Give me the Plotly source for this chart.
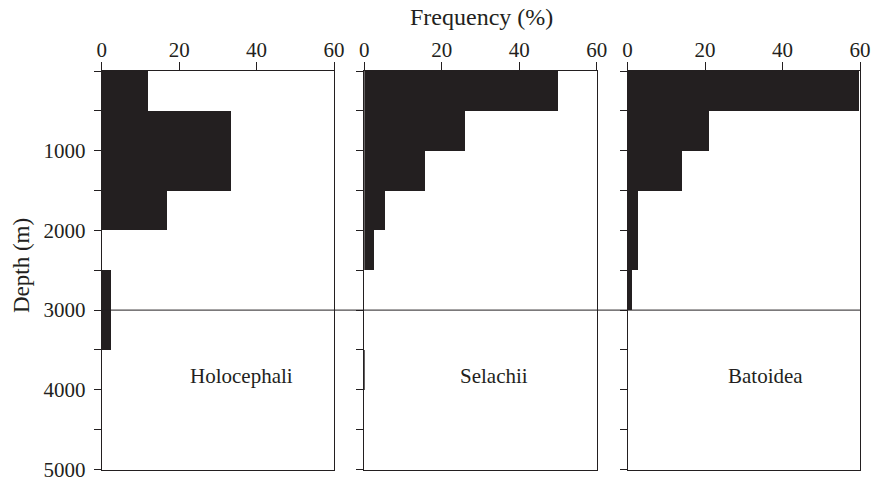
import plotly.graph_objects as go

# Depth bins (m), lower edges; each bin 500 m wide
bin_starts = [0, 500, 1000, 1500, 2000, 2500, 3000, 3500, 4000, 4500]
bin_width = 500

panels = ["Holocephali", "Selachii", "Batoidea"]
holocephali = [11.9, 33.3, 33.3, 16.7, 0, 2.4, 2.4, 0, 0, 0]
selachii = [50.0, 26.2, 15.7, 5.4, 2.6, 0, 0, 0.25, 0, 0]
batoidea = [59.5, 21.0, 14.0, 2.5, 2.7, 1.0, 0, 0, 0, 0]
series = [holocephali, selachii, batoidea]

x_ticks = [0, 20, 40, 60]
depth_ticks = list(range(0, 5001, 500))
depth_labels = ["" if (d == 0 or d % 1000) else str(d) for d in depth_ticks]
label_x = [36, 33.5, 35.5]
label_depth = 3830
threshold_depth = 3000

W, H = 872, 481
ink = "#231f20"
font_family = "Liberation Serif, Times New Roman, serif"

x_domains = [[101.7 / W, 334.0 / W], [364.3 / W, 596.7 / W], [627.5 / W, 860.0 / W]]
y_domain = [1 - 469.5 / H, 1 - 71.0 / H]

centers = [s + bin_width / 2 for s in bin_starts]

fig = go.Figure()
for i, (name, vals) in enumerate(zip(panels, series)):
    sfx = "" if i == 0 else str(i + 1)
    fig.add_trace(go.Bar(
        x=vals, y=centers, width=[bin_width] * len(centers), orientation="h",
        marker=dict(color=ink, line=dict(width=0)),
        xaxis="x" + sfx, yaxis="y" + sfx, showlegend=False, name=name,
    ))
    fig.layout["xaxis" + sfx] = dict(
        domain=x_domains[i], range=[0, 60], side="top", anchor="y" + sfx,
        tickvals=x_ticks, ticks="outside", ticklen=8, tickwidth=1, tickcolor=ink,
        ticklabelstandoff=-3,
        showline=True, linecolor=ink, linewidth=1, mirror=True,
        showgrid=False, zeroline=False, fixedrange=True, automargin=False,
        tickfont=dict(family=font_family, size=21, color=ink),
    )
    fig.layout["yaxis" + sfx] = dict(
        domain=y_domain, range=[5000, 0], anchor="x" + sfx,
        tickvals=depth_ticks, ticktext=depth_labels, showticklabels=(i == 0),
        ticks="outside", ticklen=7, tickwidth=1, tickcolor=ink,
        ticklabelstandoff=4, ticklabeloverflow="allow",
        showline=True, linecolor=ink, linewidth=1, mirror=True,
        showgrid=False, zeroline=False, fixedrange=True, automargin=False,
        tickfont=dict(family=font_family, size=21, color=ink),
    )
    fig.add_annotation(
        x=label_x[i], y=label_depth, xref="x" + sfx, yref="y" + sfx,
        xanchor="center", yanchor="middle",
        text=name, showarrow=False,
        font=dict(family=font_family, size=21, color=ink),
    )

fig.add_shape(type="line", xref="paper", yref="y",
              x0=x_domains[0][0], x1=x_domains[2][1],
              y0=threshold_depth, y1=threshold_depth,
              line=dict(color=ink, width=1), layer="above")

fig.add_annotation(x=482 / W, y=1 - 17 / H, xref="paper", yref="paper",
                   xanchor="center", yanchor="middle",
                   text="Frequency (%)", showarrow=False,
                   font=dict(family=font_family, size=24, color=ink))
fig.add_annotation(x=21 / W, y=1 - 266 / H, xref="paper", yref="paper",
                   xanchor="center", yanchor="middle",
                   text="Depth (m)", showarrow=False, textangle=-90,
                   font=dict(family=font_family, size=23, color=ink))

fig.update_layout(
    width=W, height=H, margin=dict(l=0, r=0, t=0, b=0, autoexpand=False),
    paper_bgcolor="white", plot_bgcolor="white", bargap=0,
)

fig.write_html("out.html", config={"displayModeBar": False},
               post_script="document.body.style.margin='0';")
